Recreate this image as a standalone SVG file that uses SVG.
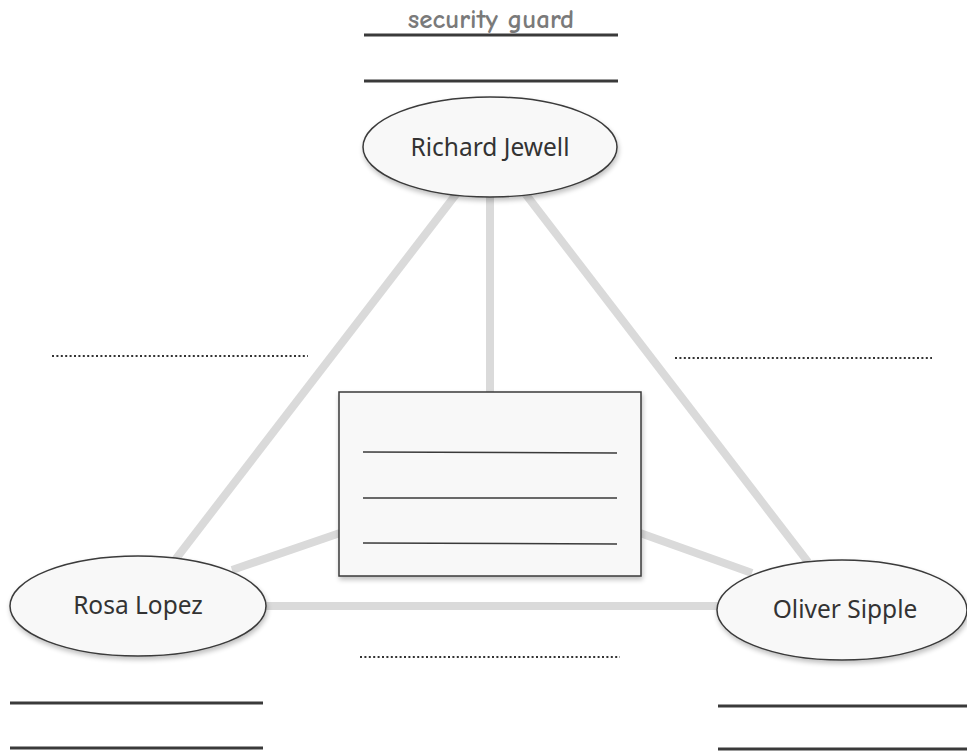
<svg xmlns="http://www.w3.org/2000/svg" width="967" height="751" viewBox="0 0 967 751">
<defs>
<filter id="sh" x="-10%" y="-10%" width="125%" height="130%">
<feGaussianBlur in="SourceAlpha" stdDeviation="2.5"/>
<feOffset dx="1" dy="3" result="b"/>
<feComponentTransfer><feFuncA type="linear" slope="0.25"/></feComponentTransfer>
<feMerge><feMergeNode/><feMergeNode in="SourceGraphic"/></feMerge>
</filter>
</defs>
<style>
.bg{fill:#ffffff}
.conn line{stroke:#dadada;stroke-width:8;stroke-linecap:butt}
.node{fill:#f8f8f8;stroke:#3a3a3a;stroke-width:1.5}
.lbl{font-family:"Noto Sans","Open Sans","DejaVu Sans",sans-serif;font-size:24.5px;fill:#333;text-anchor:middle}
.solid{stroke:#3a3a3a;stroke-width:3}
.thin{stroke:#3a3a3a;stroke-width:1.5}
.dot{stroke:#333;stroke-width:2;stroke-dasharray:2 2.4}
.hand{font-family:"Comic Neue","DejaVu Sans",sans-serif;font-size:27px;font-weight:bold;fill:#7a7a7a;text-anchor:middle}
</style>
<rect class="bg" x="0" y="0" width="967" height="751"/>
<g id="connectors" class="conn">
<line x1="457" y1="193" x2="175" y2="560"/>
<line x1="490" y1="196" x2="490" y2="393"/>
<line x1="524" y1="192" x2="808" y2="562"/>
<line x1="232" y1="570" x2="340" y2="533"/>
<line x1="640" y1="533" x2="752" y2="573"/>
<line x1="266" y1="606" x2="718" y2="606"/>
</g>
<g id="top-labels">
<text class="hand" x="491" y="28">security guard</text>
<line class="solid" x1="364" y1="35" x2="618" y2="35"/>
<line class="solid" x1="364" y1="81" x2="618" y2="81"/>
</g>
<g id="richard-jewell">
<ellipse class="node" filter="url(#sh)" cx="490" cy="147" rx="127" ry="50"/>
<text class="lbl" x="490" y="156">Richard Jewell</text>
</g>
<g id="rosa-lopez">
<ellipse class="node" filter="url(#sh)" cx="138" cy="606" rx="128" ry="50"/>
<text class="lbl" x="138" y="614">Rosa Lopez</text>
</g>
<g id="oliver-sipple">
<ellipse class="node" filter="url(#sh)" cx="842" cy="610" rx="125" ry="50"/>
<text class="lbl" x="845" y="618">Oliver Sipple</text>
</g>
<g id="center-box">
<rect class="node" filter="url(#sh)" x="339" y="392" width="302" height="184"/>
<line class="thin" x1="363" y1="452" x2="617" y2="453"/>
<line class="thin" x1="363" y1="498" x2="617" y2="498"/>
<line class="thin" x1="363" y1="543" x2="617" y2="544"/>
</g>
<g id="dotted-lines">
<line class="dot" x1="52" y1="356" x2="308" y2="356"/>
<line class="dot" x1="675" y1="358" x2="932" y2="358"/>
<line class="dot" x1="360" y1="657" x2="620" y2="657"/>
</g>
<g id="bottom-lines">
<line class="solid" x1="10" y1="703" x2="263" y2="703"/>
<line class="solid" x1="10" y1="748" x2="263" y2="748"/>
<line class="solid" x1="718" y1="706" x2="967" y2="706"/>
<line class="solid" x1="718" y1="749" x2="967" y2="749"/>
</g>
</svg>
